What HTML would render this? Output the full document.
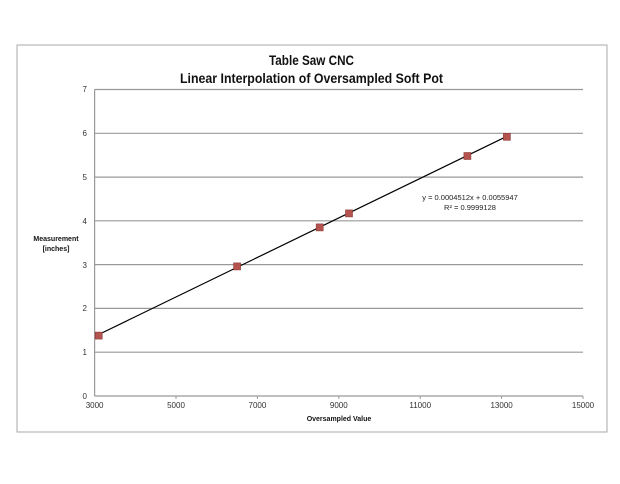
<!DOCTYPE html>
<html><head><style>body{margin:0;background:#fff}svg text{font-family:"Liberation Sans",sans-serif}</style></head><body>
<svg width="620" height="479" viewBox="0 0 620 479" xmlns="http://www.w3.org/2000/svg">
<rect x="0" y="0" width="620" height="479" fill="#fff"/>
<rect x="17" y="45" width="590" height="387" fill="#fff" stroke="#aaa" stroke-width="1"/>
<g stroke="#999" stroke-width="1.2">
<line x1="94.6" y1="89.5" x2="583" y2="89.5"/>
<line x1="94.6" y1="133.3" x2="583" y2="133.3"/>
<line x1="94.6" y1="177.1" x2="583" y2="177.1"/>
<line x1="94.6" y1="220.8" x2="583" y2="220.8"/>
<line x1="94.6" y1="264.6" x2="583" y2="264.6"/>
<line x1="94.6" y1="308.4" x2="583" y2="308.4"/>
<line x1="94.6" y1="352.2" x2="583" y2="352.2"/>
<line x1="94.6" y1="396" x2="583" y2="396"/>
<line x1="94.6" y1="89.5" x2="94.6" y2="396"/>
</g>
<g stroke="#999" stroke-width="1">
<line x1="176" y1="396" x2="176" y2="399"/><line x1="257.4" y1="396" x2="257.4" y2="399"/><line x1="338.8" y1="396" x2="338.8" y2="399"/><line x1="420.2" y1="396" x2="420.2" y2="399"/><line x1="501.6" y1="396" x2="501.6" y2="399"/><line x1="583" y1="396" x2="583" y2="399"/>
</g>
<g font-size="8" fill="#333" text-anchor="end">
<text x="87" y="92">7</text><text x="87" y="136">6</text><text x="87" y="180">5</text><text x="87" y="224">4</text><text x="87" y="268">3</text><text x="87" y="311">2</text><text x="87" y="355">1</text><text x="87" y="399">0</text>
</g>
<g font-size="8" fill="#333" text-anchor="middle">
<text x="94.6" y="408">3000</text><text x="176" y="408">5000</text><text x="257.4" y="408">7000</text><text x="338.8" y="408">9000</text><text x="420.2" y="408">11000</text><text x="501.6" y="408">13000</text><text x="583" y="408">15000</text>
</g>
<text x="339" y="421" font-size="7" font-weight="bold" text-anchor="middle" fill="#111">Oversampled Value</text>
<text x="56" y="241" font-size="7" font-weight="bold" text-anchor="middle" fill="#111">Measurement</text>
<text x="56" y="251" font-size="7" font-weight="bold" text-anchor="middle" fill="#111">[inches]</text>
<text x="269" y="65" font-size="14" font-weight="bold" fill="#111" textLength="85" lengthAdjust="spacingAndGlyphs">Table Saw CNC</text>
<text x="180" y="83" font-size="14" font-weight="bold" fill="#111" textLength="263" lengthAdjust="spacingAndGlyphs">Linear Interpolation of Oversampled Soft Pot</text>
<text x="470" y="200" font-size="7.5" text-anchor="middle" fill="#222">y = 0.0004512x + 0.0055947</text>
<text x="470" y="210" font-size="7.5" text-anchor="middle" fill="#222">R² = 0.9999128</text>
<line x1="98.7" y1="334.5" x2="506.9" y2="136.3" stroke="#000" stroke-width="1.2"/>
<g fill="#b5534f" stroke="#8a3a36" stroke-width="0.6">
<rect x="95.2" y="332.1" width="7" height="7"/>
<rect x="233.6" y="262.9" width="7" height="7"/>
<rect x="316.2" y="223.9" width="7" height="7"/>
<rect x="345.5" y="209.9" width="7" height="7"/>
<rect x="463.9" y="152.5" width="7" height="7"/>
<rect x="503.4" y="133.3" width="7" height="7"/>
</g>
</svg>
</body></html>
